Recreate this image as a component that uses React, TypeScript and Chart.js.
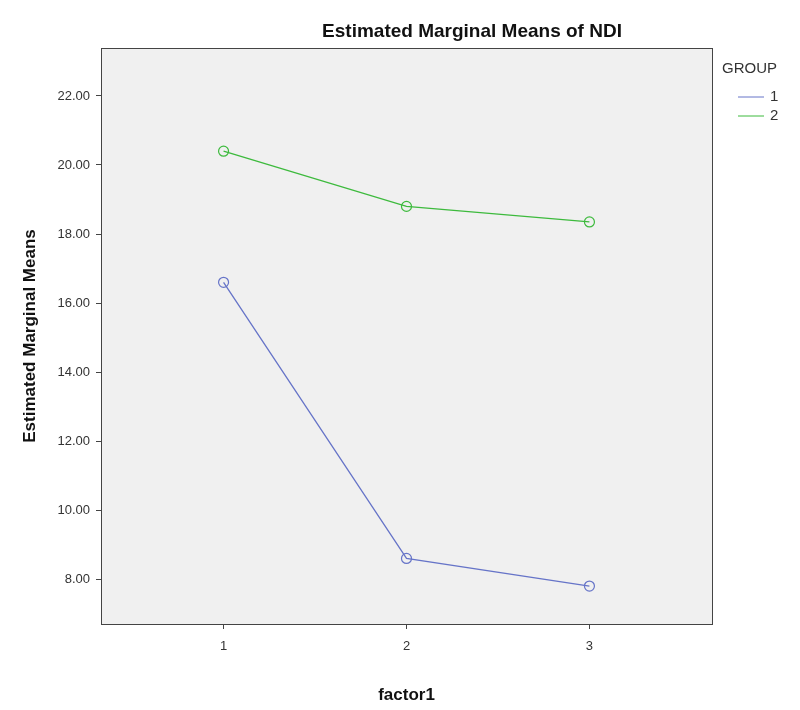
import React, { useEffect, useRef } from "react";
import { Chart, registerables } from "chart.js";
Chart.register(...registerables);

const factorLevels = [1, 2, 3];
const group1 = [16.6, 8.6, 7.8];
const group2 = [20.4, 18.8, 18.35];
const groupLabels = ["1", "2"];
const colors = ["#6674c8", "#3dba3d"];

export default function App() {
  const ref = useRef<HTMLCanvasElement>(null);
  useEffect(() => {
    const deco = {
      id: "deco",
      beforeDraw(c: any) {
        const { ctx, chartArea: a } = c;
        ctx.save();
        ctx.fillStyle = "#f0f0f0";
        ctx.fillRect(a.left, a.top, a.right - a.left, a.bottom - a.top);
        ctx.restore();
      },
      afterDraw(c: any) {
        const { ctx, chartArea: a } = c;
        ctx.save();
        ctx.strokeStyle = "#444";
        ctx.lineWidth = 1;
        ctx.strokeRect(a.left + 0.5, a.top + 0.5, a.right - a.left, a.bottom - a.top);
        ctx.fillStyle = "#111";
        ctx.font = "bold 19px Arial, 'Liberation Sans'";
        ctx.textAlign = "center";
        ctx.textBaseline = "middle";
        ctx.fillText("Estimated Marginal Means of NDI", 472, 32);
        ctx.font = "15px Arial, 'Liberation Sans'";
        ctx.textAlign = "left";
        ctx.fillStyle = "#333";
        ctx.fillText("GROUP", 722, 69);
        groupLabels.forEach((l, i) => {
          const y = 97 + i * 19;
          ctx.strokeStyle = colors[i];
          ctx.beginPath();
          ctx.moveTo(738, y);
          ctx.lineTo(764, y);
          ctx.stroke();
          ctx.fillStyle = "#333";
          ctx.fillText(l, 770, y);
        });
        ctx.restore();
      },
    };
    const mk = (data: number[], i: number) => ({
      label: groupLabels[i],
      data: data.map((v, k) => ({ x: factorLevels[k], y: v })),
      borderColor: colors[i],
      backgroundColor: "transparent",
      pointBorderColor: colors[i],
      pointRadius: 5,
      pointBorderWidth: 1.2,
      borderWidth: 1.3,
      showLine: true,
    });
    const chart = new Chart(ref.current!, {
      type: "scatter",
      data: { datasets: [mk(group1, 0), mk(group2, 1)] as any },
      options: {
        animation: false,
        responsive: false,
        layout: { padding: { top: 48, right: 88, left: 16, bottom: 0 } },
        plugins: { legend: { display: false }, tooltip: { enabled: false } },
        scales: {
          x: {
            type: "linear",
            min: 0.33,
            max: 3.67,
            afterFit: (s: any) => { s.height = 86; },
            afterBuildTicks: (s: any) => { s.ticks = factorLevels.map((v) => ({ value: v })); },
            grid: { drawOnChartArea: false, tickLength: 5, color: "#444" },
            border: { display: false },
            ticks: { color: "#333", padding: 10, font: { size: 13, family: "Arial" }, callback: (v: any) => String(v) },
            title: { display: true, text: "factor1", color: "#111", font: { size: 17, weight: "bold", family: "Arial" }, padding: { top: 10 } },
          },
          y: {
            min: 6.7,
            max: 23.39,
            afterFit: (s: any) => { s.width = 85; },
            afterBuildTicks: (s: any) => { s.ticks = [8, 10, 12, 14, 16, 18, 20, 22].map((v) => ({ value: v })); },
            grid: { drawOnChartArea: false, tickLength: 5, color: "#444" },
            border: { display: false },
            ticks: { color: "#333", padding: 6, font: { size: 13, family: "Arial" }, callback: (v: any) => Number(v).toFixed(2) },
            title: { display: true, text: "Estimated Marginal Means", color: "#111", font: { size: 17, weight: "bold", family: "Arial" }, padding: { bottom: 4 } },
          },
        },
      } as any,
      plugins: [deco],
    });
    return () => chart.destroy();
  }, []);
  return (
    <div style={{ position: "absolute", left: 0, top: 0, width: 800, height: 710, background: "#fff" }}>
      <canvas ref={ref} width={800} height={710} />
    </div>
  );
}
